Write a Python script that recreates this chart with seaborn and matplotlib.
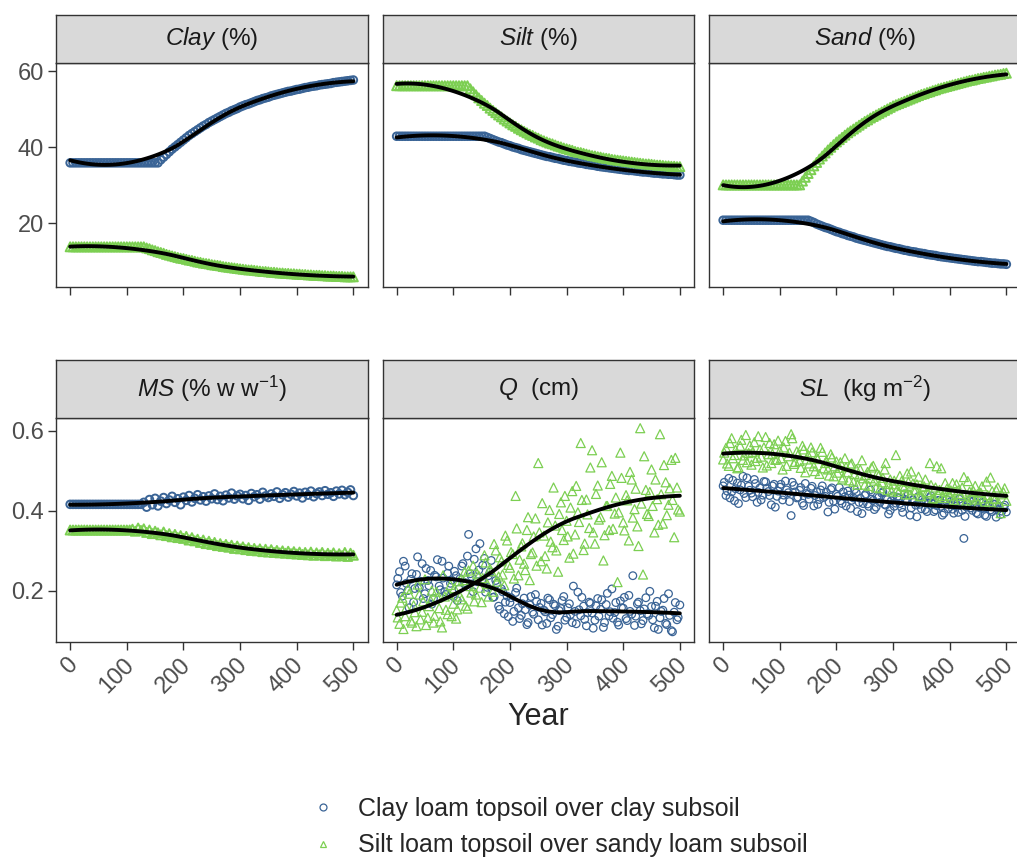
import numpy as np
import pandas as pd
import matplotlib
matplotlib.use("Agg")
import matplotlib.pyplot as plt
import matplotlib.transforms as mtransforms
import seaborn as sns
from matplotlib.lines import Line2D

# ---- data ----
YEARS = list(range(0, 501, 5))      # main sampling, every 5 years
YEARS_B = list(range(2, 501, 5))    # extra readings for the noisy Q and SL panels
SOILS = ["Clay loam topsoil over clay subsoil",
         "Silt loam topsoil over sandy loam subsoil"]

CLAY_BLUE = [35.9] * 31 + [
    35.9, 36.7, 37.4, 38.1, 38.8, 39.5, 40.1, 40.7, 41.3, 41.9, 42.5, 43.1, 43.6, 44.1,
    44.6, 45.1, 45.6, 46.0, 46.5, 46.9, 47.3, 47.7, 48.1, 48.5, 48.9, 49.2, 49.6, 49.9,
    50.2, 50.6, 50.9, 51.2, 51.4, 51.7, 52.0, 52.3, 52.5, 52.8, 53.0, 53.2, 53.5, 53.7,
    53.9, 54.1, 54.3, 54.5, 54.7, 54.8, 55.0, 55.2, 55.3, 55.5, 55.7, 55.8, 56.0, 56.1,
    56.2, 56.4, 56.5, 56.6, 56.7, 56.8, 57.0, 57.1, 57.2, 57.3, 57.4, 57.5, 57.6, 57.7]
CLAY_GREEN = [13.8] * 27 + [
    13.5, 13.3, 13.0, 12.8, 12.5, 12.3, 12.1, 11.8, 11.6, 11.4, 11.2, 11.0, 10.8, 10.7,
    10.5, 10.3, 10.2, 10.0, 9.8, 9.7, 9.5, 9.4, 9.3, 9.1, 9.0, 8.9, 8.8, 8.6, 8.5, 8.4,
    8.3, 8.2, 8.1, 8.0, 7.9, 7.8, 7.7, 7.7, 7.6, 7.5, 7.4, 7.3, 7.3, 7.2, 7.1, 7.1, 7.0,
    6.9, 6.9, 6.8, 6.8, 6.7, 6.7, 6.6, 6.6, 6.5, 6.5, 6.4, 6.4, 6.3, 6.3, 6.3, 6.2, 6.2,
    6.1, 6.1, 6.1, 6.0, 6.0, 6.0, 5.9, 5.9, 5.9, 5.9]
SILT_BLUE = [42.9] * 32 + [
    42.6, 42.3, 42.0, 41.7, 41.4, 41.2, 40.9, 40.6, 40.4, 40.1, 39.9, 39.7, 39.4, 39.2,
    39.0, 38.8, 38.6, 38.4, 38.2, 38.0, 37.8, 37.6, 37.5, 37.3, 37.1, 37.0, 36.8, 36.6,
    36.5, 36.3, 36.2, 36.1, 35.9, 35.8, 35.7, 35.5, 35.4, 35.3, 35.2, 35.0, 34.9, 34.8,
    34.7, 34.6, 34.5, 34.4, 34.3, 34.2, 34.1, 34.0, 33.9, 33.9, 33.8, 33.7, 33.6, 33.5,
    33.5, 33.4, 33.3, 33.2, 33.2, 33.1, 33.0, 33.0, 32.9, 32.9, 32.8, 32.7, 32.7]
SILT_GREEN = [56.2] * 26 + [
    55.4, 54.6, 53.8, 53.0, 52.3, 51.6, 51.0, 50.3, 49.7, 49.1, 48.5, 48.0, 47.4, 46.9,
    46.4, 45.9, 45.5, 45.0, 44.6, 44.2, 43.8, 43.4, 43.1, 42.7, 42.4, 42.0, 41.7, 41.4,
    41.1, 40.9, 40.6, 40.3, 40.1, 39.8, 39.6, 39.4, 39.2, 38.9, 38.7, 38.6, 38.4, 38.2,
    38.0, 37.8, 37.7, 37.5, 37.4, 37.2, 37.1, 37.0, 36.8, 36.7, 36.6, 36.5, 36.4, 36.3,
    36.2, 36.1, 36.0, 35.9, 35.8, 35.7, 35.6, 35.6, 35.5, 35.4, 35.3, 35.3, 35.2, 35.1,
    35.1, 35.0, 35.0, 34.9, 34.9]
SAND_BLUE = [20.8] * 31 + [
    20.5, 20.2, 19.8, 19.5, 19.2, 18.9, 18.7, 18.4, 18.1, 17.8, 17.6, 17.3, 17.1, 16.8,
    16.6, 16.4, 16.1, 15.9, 15.7, 15.5, 15.3, 15.1, 14.9, 14.7, 14.5, 14.3, 14.1, 13.9,
    13.8, 13.6, 13.4, 13.3, 13.1, 12.9, 12.8, 12.6, 12.5, 12.4, 12.2, 12.1, 12.0, 11.8,
    11.7, 11.6, 11.5, 11.3, 11.2, 11.1, 11.0, 10.9, 10.8, 10.7, 10.6, 10.5, 10.4, 10.3,
    10.2, 10.1, 10.0, 9.9, 9.9, 9.8, 9.7, 9.6, 9.5, 9.5, 9.4, 9.3, 9.3, 9.2]
SAND_GREEN = [30.1] * 28 + [
    31.1, 32.1, 33.1, 34.1, 35.1, 36.0, 36.9, 37.7, 38.5, 39.3, 40.0, 40.7, 41.4, 42.0,
    42.6, 43.2, 43.8, 44.3, 44.8, 45.3, 45.8, 46.3, 46.8, 47.2, 47.7, 48.1, 48.5, 48.9,
    49.3, 49.7, 50.1, 50.5, 50.9, 51.2, 51.5, 51.8, 52.1, 52.4, 52.7, 53.0, 53.3, 53.6,
    53.9, 54.1, 54.4, 54.6, 54.9, 55.1, 55.4, 55.6, 55.8, 56.0, 56.2, 56.4, 56.6, 56.8,
    57.0, 57.2, 57.4, 57.6, 57.7, 57.9, 58.1, 58.2, 58.4, 58.5, 58.7, 58.8, 59.0, 59.1,
    59.2, 59.4, 59.5]

MS_BLUE = [0.416] * 26 + [
    0.421, 0.409, 0.428, 0.415, 0.431, 0.412, 0.424, 0.433, 0.418, 0.427, 0.436, 0.421,
    0.430, 0.415, 0.434, 0.426, 0.438, 0.422, 0.431, 0.440, 0.427, 0.435, 0.424, 0.437,
    0.430, 0.442, 0.428, 0.436, 0.425, 0.439, 0.432, 0.444, 0.429, 0.437, 0.441, 0.430,
    0.438, 0.426, 0.443, 0.435, 0.440, 0.429, 0.446, 0.437, 0.433, 0.442, 0.436, 0.447,
    0.431, 0.440, 0.445, 0.434, 0.441, 0.448, 0.437, 0.444, 0.432, 0.446, 0.439, 0.449,
    0.435, 0.443, 0.447, 0.438, 0.450, 0.441, 0.445, 0.436, 0.449, 0.442, 0.451, 0.440,
    0.446, 0.452, 0.438]
MS_GREEN = [0.352] * 22 + [
    0.354, 0.349, 0.357, 0.351, 0.355, 0.346, 0.352, 0.343, 0.349, 0.345, 0.340, 0.347,
    0.338, 0.343, 0.335, 0.341, 0.333, 0.338, 0.331, 0.336, 0.327, 0.333, 0.325, 0.329,
    0.321, 0.327, 0.318, 0.324, 0.316, 0.321, 0.313, 0.318, 0.311, 0.316, 0.309, 0.314,
    0.306, 0.312, 0.305, 0.310, 0.303, 0.308, 0.301, 0.306, 0.300, 0.305, 0.298, 0.304,
    0.297, 0.303, 0.296, 0.301, 0.295, 0.300, 0.294, 0.299, 0.293, 0.298, 0.292, 0.297,
    0.291, 0.296, 0.290, 0.297, 0.289, 0.295, 0.290, 0.296, 0.288, 0.294, 0.289, 0.295,
    0.287, 0.293, 0.288, 0.296, 0.286, 0.294, 0.289]

Q_BLUE = [
    0.215, 0.248, 0.187, 0.262, 0.201, 0.229, 0.172, 0.241, 0.208, 0.268, 0.193, 0.226,
    0.251, 0.181, 0.235, 0.212, 0.274, 0.198, 0.244, 0.219, 0.186, 0.238, 0.205, 0.262,
    0.221, 0.287, 0.243, 0.198, 0.305, 0.252, 0.226, 0.281, 0.209, 0.247, 0.184, 0.226,
    0.162, 0.205, 0.143, 0.187, 0.171, 0.124, 0.196, 0.158, 0.139, 0.182, 0.116, 0.165,
    0.147, 0.191, 0.128, 0.169, 0.152, 0.119, 0.178, 0.141, 0.163, 0.112, 0.156, 0.186,
    0.134, 0.168, 0.121, 0.149, 0.197, 0.138, 0.162, 0.113, 0.172, 0.145, 0.127, 0.181,
    0.154, 0.109, 0.166, 0.138, 0.205, 0.146, 0.122, 0.175, 0.157, 0.131, 0.189, 0.142,
    0.114, 0.168, 0.151, 0.126, 0.183, 0.139, 0.161, 0.108, 0.174, 0.133, 0.152, 0.119,
    0.193, 0.101, 0.147, 0.128, 0.165]
Q_BLUE_B = [
    0.231, 0.196, 0.274, 0.219, 0.158, 0.243, 0.206, 0.285, 0.224, 0.181,
    0.256, 0.213, 0.167, 0.239, 0.278, 0.203, 0.232, 0.191, 0.262, 0.227,
    0.249, 0.176, 0.231, 0.268, 0.214, 0.341, 0.236, 0.279, 0.223, 0.318,
    0.264, 0.197, 0.238, 0.276, 0.185, 0.219, 0.154, 0.198, 0.172, 0.136,
    0.183, 0.149, 0.207, 0.131, 0.168, 0.153, 0.121, 0.186, 0.142, 0.174,
    0.159, 0.115, 0.148, 0.182, 0.133, 0.167, 0.104, 0.151, 0.176, 0.127,
    0.158, 0.141, 0.212, 0.118, 0.153, 0.184, 0.129, 0.146, 0.169, 0.107,
    0.163, 0.137, 0.178, 0.121, 0.194, 0.148, 0.132, 0.171, 0.115, 0.158,
    0.184, 0.126, 0.149, 0.238, 0.137, 0.172, 0.118, 0.155, 0.143, 0.199,
    0.128, 0.162, 0.104, 0.149, 0.181, 0.116, 0.139, 0.098, 0.171, 0.134]
Q_GREEN = [
    0.152, 0.118, 0.183, 0.137, 0.205, 0.126, 0.164, 0.112, 0.191, 0.148, 0.229, 0.133,
    0.176, 0.121, 0.198, 0.157, 0.109, 0.186, 0.142, 0.215, 0.168, 0.131, 0.224, 0.179,
    0.248, 0.156, 0.212, 0.263, 0.191, 0.238, 0.172, 0.289, 0.217, 0.255, 0.198, 0.301,
    0.236, 0.274, 0.214, 0.326, 0.258, 0.292, 0.437, 0.239, 0.311, 0.268, 0.352, 0.227,
    0.296, 0.381, 0.519, 0.274, 0.338, 0.256, 0.402, 0.309, 0.363, 0.248, 0.421, 0.327,
    0.375, 0.283, 0.449, 0.341, 0.396, 0.569, 0.302, 0.428, 0.357, 0.551, 0.318, 0.463,
    0.384, 0.276, 0.412, 0.352, 0.487, 0.393, 0.222, 0.545, 0.371, 0.439, 0.326, 0.478,
    0.404, 0.361, 0.606, 0.241, 0.452, 0.387, 0.503, 0.346, 0.429, 0.591, 0.368, 0.471,
    0.415, 0.527, 0.334, 0.458, 0.398]
Q_GREEN_B = [
    0.134, 0.171, 0.105, 0.158, 0.193, 0.121, 0.147, 0.216, 0.129, 0.174,
    0.115, 0.162, 0.201, 0.138, 0.183, 0.124, 0.239, 0.153, 0.192, 0.137,
    0.207, 0.154, 0.186, 0.227, 0.163, 0.251, 0.196, 0.174, 0.243, 0.208,
    0.232, 0.271, 0.186, 0.249, 0.317, 0.223, 0.284, 0.241, 0.338, 0.265,
    0.297, 0.231, 0.356, 0.278, 0.319, 0.252, 0.384, 0.292, 0.336, 0.263,
    0.346, 0.419, 0.287, 0.371, 0.323, 0.458, 0.301, 0.392, 0.352, 0.437,
    0.336, 0.408, 0.293, 0.462, 0.372, 0.427, 0.318, 0.391, 0.508, 0.346,
    0.442, 0.378, 0.521, 0.339, 0.412, 0.467, 0.355, 0.433, 0.396, 0.482,
    0.351, 0.426, 0.497, 0.383, 0.455, 0.312, 0.418, 0.536, 0.392, 0.447,
    0.412, 0.478, 0.365, 0.441, 0.514, 0.389, 0.456, 0.427, 0.532, 0.403]
SL_BLUE = [
    0.462, 0.438, 0.481, 0.447, 0.425, 0.469, 0.452, 0.486, 0.433, 0.461, 0.444, 0.478,
    0.421, 0.457, 0.439, 0.472, 0.448, 0.415, 0.466, 0.436, 0.459, 0.427, 0.474, 0.445,
    0.388, 0.463, 0.432, 0.451, 0.419, 0.468, 0.441, 0.456, 0.412, 0.447, 0.428, 0.462,
    0.436, 0.397, 0.453, 0.424, 0.441, 0.458, 0.418, 0.435, 0.449, 0.406, 0.432, 0.445,
    0.421, 0.393, 0.438, 0.417, 0.452, 0.426, 0.409, 0.434, 0.444, 0.416, 0.428, 0.401,
    0.437, 0.419, 0.431, 0.408, 0.442, 0.423, 0.389, 0.427, 0.414, 0.436, 0.405, 0.421,
    0.398, 0.433, 0.417, 0.402, 0.426, 0.411, 0.394, 0.428, 0.415, 0.404, 0.422, 0.396,
    0.418, 0.331, 0.409, 0.425, 0.401, 0.414, 0.392, 0.419, 0.406, 0.386, 0.412, 0.398,
    0.416, 0.403, 0.391, 0.409, 0.397]
SL_BLUE_B = [
    0.471, 0.449, 0.432, 0.476, 0.455, 0.418, 0.464, 0.443, 0.482, 0.451,
    0.435, 0.468, 0.446, 0.427, 0.473, 0.456, 0.438, 0.462, 0.409, 0.449,
    0.466, 0.439, 0.452, 0.423, 0.471, 0.447, 0.434, 0.458, 0.413, 0.443,
    0.429, 0.461, 0.438, 0.416, 0.452, 0.433, 0.446, 0.421, 0.457, 0.404,
    0.436, 0.425, 0.447, 0.412, 0.439, 0.426, 0.453, 0.398, 0.431, 0.418,
    0.442, 0.411, 0.429, 0.403, 0.436, 0.421, 0.447, 0.414, 0.392, 0.425,
    0.411, 0.434, 0.418, 0.396, 0.428, 0.441, 0.407, 0.422, 0.385, 0.416,
    0.428, 0.403, 0.419, 0.437, 0.398, 0.413, 0.426, 0.389, 0.417, 0.405,
    0.423, 0.394, 0.411, 0.429, 0.401, 0.386, 0.418, 0.407, 0.424, 0.395,
    0.408, 0.421, 0.389, 0.413, 0.402, 0.417, 0.384, 0.411, 0.399, 0.414]
SL_GREEN = [
    0.528, 0.557, 0.512, 0.581, 0.539, 0.506, 0.562, 0.527, 0.589, 0.544, 0.515, 0.571,
    0.532, 0.553, 0.508, 0.584, 0.541, 0.519, 0.566, 0.528, 0.549, 0.503, 0.574, 0.536,
    0.591, 0.517, 0.548, 0.524, 0.562, 0.496, 0.539, 0.558, 0.511, 0.533, 0.492, 0.547,
    0.519, 0.503, 0.541, 0.486, 0.523, 0.507, 0.478, 0.531, 0.496, 0.515, 0.472, 0.504,
    0.488, 0.526, 0.465, 0.497, 0.481, 0.512, 0.458, 0.489, 0.471, 0.503, 0.452, 0.478,
    0.466, 0.539, 0.447, 0.474, 0.459, 0.493, 0.441, 0.468, 0.452, 0.485, 0.436, 0.461,
    0.447, 0.519, 0.429, 0.458, 0.441, 0.506, 0.432, 0.455, 0.438, 0.469, 0.421, 0.451,
    0.437, 0.484, 0.426, 0.448, 0.433, 0.462, 0.418, 0.445, 0.431, 0.473, 0.422, 0.449,
    0.429, 0.458, 0.394, 0.446, 0.425]
SL_GREEN_B = [
    0.545, 0.518, 0.569, 0.531, 0.552, 0.509, 0.577, 0.538, 0.521, 0.563,
    0.547, 0.524, 0.586, 0.535, 0.558, 0.513, 0.569, 0.542, 0.527, 0.575,
    0.531, 0.558, 0.512, 0.545, 0.581, 0.522, 0.539, 0.507, 0.553, 0.528,
    0.518, 0.546, 0.499, 0.529, 0.557, 0.506, 0.524, 0.488, 0.533, 0.511,
    0.495, 0.521, 0.483, 0.509, 0.476, 0.518, 0.492, 0.465, 0.503, 0.481,
    0.489, 0.462, 0.508, 0.475, 0.493, 0.456, 0.482, 0.519, 0.467, 0.448,
    0.475, 0.453, 0.487, 0.462, 0.441, 0.472, 0.498, 0.451, 0.466, 0.437,
    0.459, 0.478, 0.443, 0.464, 0.432, 0.511, 0.452, 0.437, 0.469, 0.446,
    0.451, 0.427, 0.466, 0.442, 0.458, 0.419, 0.474, 0.436, 0.449, 0.428,
    0.447, 0.461, 0.423, 0.439, 0.483, 0.431, 0.452, 0.418, 0.441, 0.456]

TITLES = [r"$\mathit{Clay}$ (%)", r"$\mathit{Silt}$ (%)", r"$\mathit{Sand}$ (%)",
          r"$\mathit{MS}$ (% w w$^{-1}$)", r"$\mathit{Q}$  (cm)", r"$\mathit{SL}$  (kg m$^{-2}$)"]
YY = YEARS + YEARS_B
PANEL_DATA = [
    ((YEARS, CLAY_BLUE), (YEARS, CLAY_GREEN)),
    ((YEARS, SILT_BLUE), (YEARS, SILT_GREEN)),
    ((YEARS, SAND_BLUE), (YEARS, SAND_GREEN)),
    ((YEARS, MS_BLUE), (YEARS, MS_GREEN)),
    ((YY, Q_BLUE + Q_BLUE_B), (YY, Q_GREEN + Q_GREEN_B)),
    ((YY, SL_BLUE + SL_BLUE_B), (YY, SL_GREEN + SL_GREEN_B)),
]

BLUE = "#3A6496"
GREEN = "#7CCF52"
COLORS = [BLUE, GREEN]
MARKERS = ["o", "^"]
SIZES = [30, 42]


def loess(x, y, span=0.75, n_out=100):
    # local quadratic fit with tricube weights (R's loess default, as geom_smooth)
    x = np.asarray(x, float)
    y = np.asarray(y, float)
    xs = np.linspace(x.min(), x.max(), n_out)
    k = int(np.ceil(span * len(x)))
    fit = []
    for x0 in xs:
        d = np.abs(x - x0)
        h = np.sort(d)[k - 1]
        w = np.clip(1 - (d / h) ** 3, 0, None) ** 3
        A = np.vstack([np.ones_like(x), x - x0, (x - x0) ** 2]).T
        sw = np.sqrt(w)
        beta = np.linalg.lstsq(A * sw[:, None], y * sw, rcond=None)[0]
        fit.append(beta[0])
    return xs, np.array(fit)


sns.set_style("white")
plt.rcParams["font.family"] = ["Liberation Sans", "DejaVu Sans"]
plt.rcParams["mathtext.fontset"] = "custom"
plt.rcParams["mathtext.rm"] = "Liberation Sans"
plt.rcParams["mathtext.it"] = "Liberation Sans:italic"

W, H = 1017, 860
fig = plt.figure(figsize=(W / 100, H / 100), dpi=100)

lefts = [56, 382.5, 709]
pw = 311.5
rows = [(63, 287, 15), (418, 642, 360)]  # panel top, panel bottom, strip top

# shared y range per row, expanded 5% like ggplot
row_lims = []
for r in range(2):
    vals = np.concatenate([np.array(s[1]) for pair in PANEL_DATA[r * 3:r * 3 + 3] for s in pair])
    lo, hi = vals.min(), vals.max()
    pad = 0.05 * (hi - lo)
    row_lims.append((lo - pad, hi + pad))

shift_left = mtransforms.ScaledTranslation(-4 / 100, 0, fig.dpi_scale_trans)

for i, (title, pair) in enumerate(zip(TITLES, PANEL_DATA)):
    r, c = divmod(i, 3)
    top, bottom, stop = rows[r]
    ax = fig.add_axes([lefts[c] / W, 1 - bottom / H, pw / W, (bottom - top) / H])

    # the smooth top-row series overlap into solid bands in the original
    edge_w = 1.4 if r == 0 or i == 3 else 0.9
    for soil, (yrs, vals), col, mk, sz in zip(SOILS, pair, COLORS, MARKERS, SIZES):
        assert len(vals) == len(yrs), (title, len(vals))
        df = pd.DataFrame({"Year": yrs, "value": vals})
        sns.scatterplot(data=df, x="Year", y="value", marker=mk, s=sz, ax=ax, legend=False)
        coll = ax.collections[-1]
        coll.set_facecolor("none")
        coll.set_edgecolor(col)
        coll.set_linewidth(edge_w)

    for yrs, vals in pair:
        xs, fit = loess(yrs, vals)
        sns.lineplot(x=xs, y=fit, color="black", lw=2.8, ax=ax)

    ax.set_xlim(-25, 525)
    ax.set_ylim(*row_lims[r])
    ax.set_xticks(range(0, 501, 100))
    ax.set_yticks([20, 40, 60] if r == 0 else [0.2, 0.4, 0.6])
    ax.set_xlabel("")
    ax.set_ylabel("")
    ax.tick_params(length=5.5, width=1.0, color="#333333", labelsize=17,
                   labelcolor="#4D4D4D", pad=3)
    ax.tick_params(axis="both", which="both", bottom=True, left=True)
    if c > 0:
        ax.tick_params(axis="y", left=False, labelleft=False)
    if r == 0:
        ax.tick_params(axis="x", labelbottom=False)
    else:
        for lab in ax.get_xticklabels():
            lab.set_rotation(45)
            lab.set_ha("right")
            lab.set_va("top")
            lab.set_rotation_mode("anchor")
            lab.set_transform(lab.get_transform() + shift_left)
    for sp in ax.spines.values():
        sp.set_color("#333333")
        sp.set_linewidth(1.0)

    sax = fig.add_axes([lefts[c] / W, 1 - top / H, pw / W, (top - stop) / H])
    sax.set_facecolor("#D9D9D9")
    sax.set_xticks([])
    sax.set_yticks([])
    for sp in sax.spines.values():
        sp.set_color("#333333")
        sp.set_linewidth(1.0)
    sax.text(0.5, 0.5, title, ha="center", va="center", fontsize=17.5,
             color="#1A1A1A", transform=sax.transAxes)

fig.text(538 / W, 1 - 717 / H, "Year", ha="center", va="center", fontsize=22)

handles = [Line2D([], [], marker=m, ls="", markersize=5, markerfacecolor="none",
                  markeredgecolor=col, markeredgewidth=0.9)
           for m, col in zip(MARKERS, COLORS)]
fig.legend(handles, SOILS, loc="center left", bbox_to_anchor=(310.5 / W, 1 - 827 / H),
           frameon=False, fontsize=18, handletextpad=0.9, labelspacing=0.5,
           handlelength=1.0, borderaxespad=0, borderpad=0)

fig.savefig("out.png", dpi=100)
